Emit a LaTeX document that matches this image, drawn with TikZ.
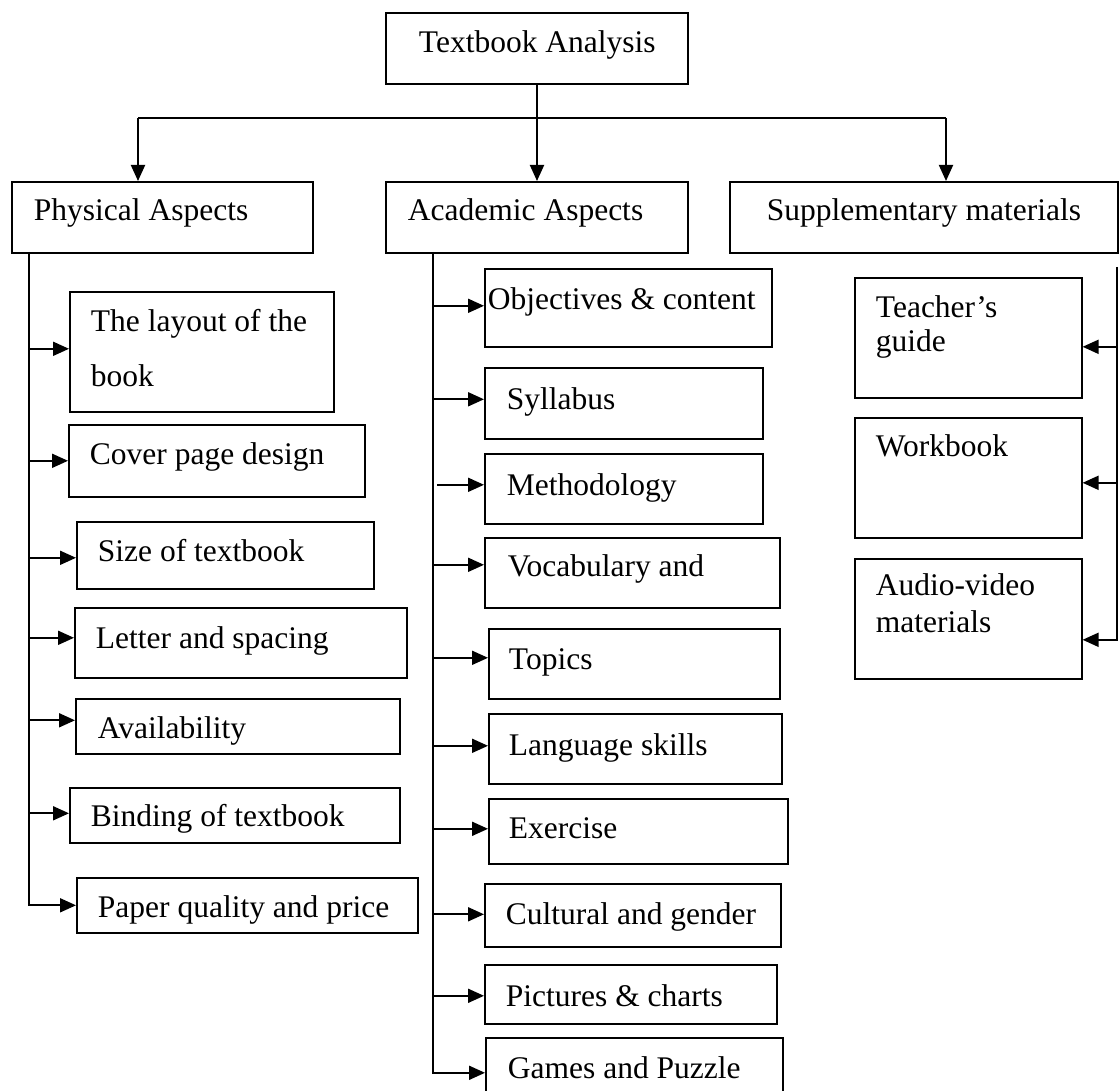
\documentclass[tikz,border=0pt]{standalone}
\usepackage{fontspec}
\setmainfont{Liberation Serif}
\usetikzlibrary{arrows.meta}
\begin{document}
\begin{tikzpicture}[x=1pt,y=-1pt,
  line width=1.9pt,
  box/.style={draw, rectangle, anchor=north west, inner sep=0pt, line width=1.6pt},
  txt/.style={anchor=base west, inner sep=0pt, font=\fontsize{31.5}{36}\selectfont},
  arr/.style={-{Triangle[length=16pt,width=14pt]}}]
\useasboundingbox (0,0) rectangle (1119,1091);
\clip (0,0) rectangle (1119,1091);
% ---- top level
\node[box, minimum width=302pt, minimum height=71pt] (top) at (385,12) {};
\node[txt] (ttop) at (418,53) {Textbook Analysis};
\node[box, minimum width=301pt, minimum height=71pt] (phys) at (11,181) {};
\node[txt] (tphys) at (33,221) {Physical Aspects};
\node[box, minimum width=302pt, minimum height=71pt] (acad) at (385,181) {};
\node[txt] (tacad) at (407,221) {Academic Aspects};
\node[box, minimum width=388pt, minimum height=71pt] (supp) at (729,181) {};
\node[txt] (tsupp) at (766,221) {Supplementary materials};
% ---- physical column
\node[box, minimum width=264pt, minimum height=120pt] (layout) at (69,291) {};
\node[txt] (tlayout1) at (90,331) {The layout of the};
\node[txt] (tlayout2) at (90,386) {book};
\node[box, minimum width=296pt, minimum height=72pt] (cover) at (68,424) {};
\node[txt] (tcover) at (89,464) {Cover page design};
\node[box, minimum width=297pt, minimum height=67pt] (size) at (76,521) {};
\node[txt] (tsize) at (97,561) {Size of textbook};
\node[box, minimum width=332pt, minimum height=70pt] (letter) at (74,607) {};
\node[txt] (tletter) at (95,648) {Letter and spacing};
\node[box, minimum width=324pt, minimum height=55pt] (avail) at (75,698) {};
\node[txt] (tavail) at (97,738) {Availability};
\node[box, minimum width=330pt, minimum height=55pt] (binding) at (69,787) {};
\node[txt] (tbinding) at (90,826) {Binding of textbook};
\node[box, minimum width=341pt, minimum height=55pt] (paper) at (76,877) {};
\node[txt] (tpaper) at (97,917) {Paper quality and price};
% ---- academic column
\node[box, minimum width=287pt, minimum height=78pt] (obj) at (484,268) {};
\node[txt] (tobj) at (487,309) {Objectives \& content};
\node[box, minimum width=278pt, minimum height=71pt] (syl) at (484,367) {};
\node[txt] (tsyl) at (506,409) {Syllabus};
\node[box, minimum width=278pt, minimum height=70pt] (meth) at (484,453) {};
\node[txt] (tmeth) at (506,495) {Methodology};
\node[box, minimum width=295pt, minimum height=70pt] (vocab) at (484,537) {};
\node[txt] (tvocab) at (507,576) {Vocabulary and};
\node[box, minimum width=291pt, minimum height=70pt] (topics) at (488,628) {};
\node[txt] (ttopics) at (508,669) {Topics};
\node[box, minimum width=293pt, minimum height=70pt] (lang) at (488,713) {};
\node[txt] (tlang) at (508,755) {Language skills};
\node[box, minimum width=299pt, minimum height=65pt] (exer) at (488,798) {};
\node[txt] (texer) at (508,838) {Exercise};
\node[box, minimum width=296pt, minimum height=63pt] (cult) at (484,883) {};
\node[txt] (tcult) at (505,924) {Cultural and gender};
\node[box, minimum width=292pt, minimum height=59pt] (pict) at (484,964) {};
\node[txt] (tpict) at (505,1006) {Pictures \& charts};
\node[box, minimum width=297pt, minimum height=70pt] (games) at (485,1037) {};
\node[txt] (tgames) at (507,1078) {Games and Puzzle};
% ---- supplementary column
\node[box, minimum width=227pt, minimum height=120pt] (teacher) at (854,277) {};
\node[txt] (tteacher1) at (875,318) {Teacher’s};
\node[txt] (tteacher2) at (875,352) {guide};
\node[box, minimum width=227pt, minimum height=120pt] (work) at (854,417) {};
\node[txt] (twork) at (875,456) {Workbook};
\node[box, minimum width=227pt, minimum height=120pt] (audio) at (854,558) {};
\node[txt] (taudio1) at (875,595) {Audio-video};
\node[txt] (taudio2) at (875,632) {materials};
% ---- connectors top
\coordinate (jm) at (537,118);
\coordinate (jl) at (138,118);
\coordinate (jr) at (946,118);
\draw (top.south -| jm) -- (jm);
\draw (jl) -- (jr);
\draw[arr] (jl) -- (jl |- phys.north);
\draw[arr] (jm) -- (jm |- acad.north);
\draw[arr] (jr) -- (jr |- supp.north);
% ---- physical connectors
\coordinate (pv) at (29,252);
\foreach \n/\s in {layout/3,cover/0,size/-2.5,letter/5,avail/6,binding/2}{
  \coordinate (\n-in) at ([yshift=\s pt]\n.west);
  \draw[arr] (pv |- \n-in) -- (\n-in);
}
\draw[arr] (pv) |- (paper.west);
% ---- academic connectors
\coordinate (av) at (433,252);
\foreach \n/\s in {obj/2,syl/4,vocab/8,topics/6,lang/3,exer/2.5,cult/1,pict/-1.5}{
  \coordinate (\n-in) at ([yshift=\s pt]\n.west);
  \draw[arr] (av |- \n-in) -- (\n-in);
}
\coordinate (meth-in) at ([yshift=4pt]meth.west);
\draw[arr] ([xshift=4pt]av |- meth-in) -- (meth-in);
\draw[arr] (av) |- (games.west);
% ---- supplementary connectors
\coordinate (sv) at (1117,267);
\foreach \n/\s in {teacher/-9,work/-5}{
  \coordinate (\n-in) at ([yshift=\s pt]\n.east);
  \draw[arr] (sv |- \n-in) -- (\n-in);
}
\coordinate (audio-in) at ([yshift=-21pt]audio.east);
\draw[arr] (sv) |- (audio-in);
\end{tikzpicture}
\end{document}
